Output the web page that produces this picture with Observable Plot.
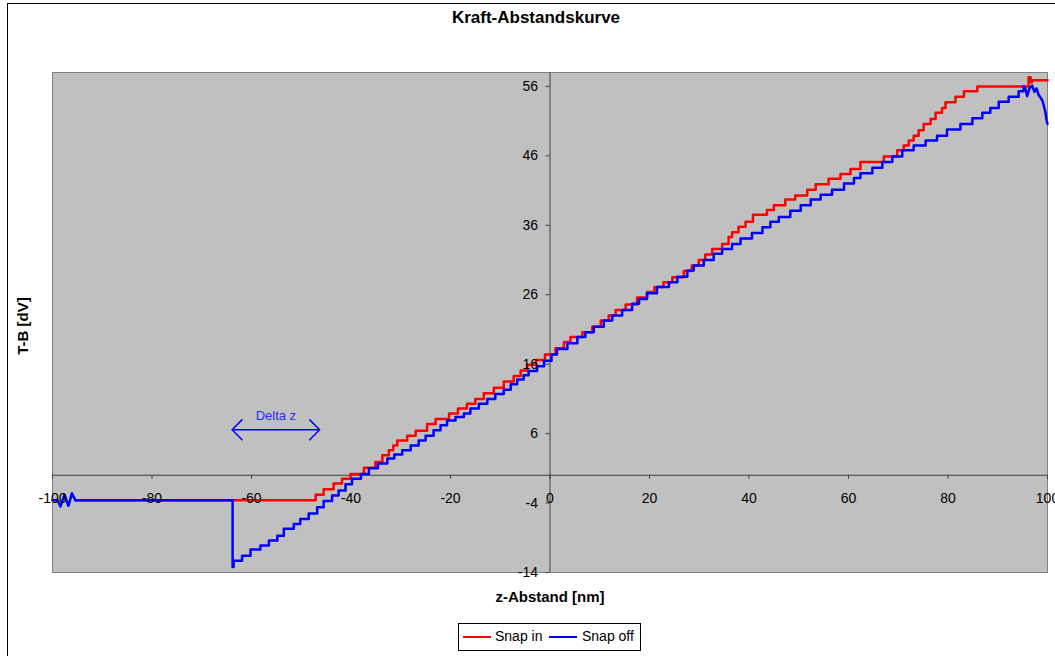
<!DOCTYPE html>
<html>
<head>
<meta charset="utf-8">
<script src="https://cdn.jsdelivr.net/npm/d3@7"></script>
<script src="https://cdn.jsdelivr.net/npm/@observablehq/plot@0.6"></script>
<style>
  html, body { margin: 0; padding: 0; background: #fff; }
  #chart { position: relative; width: 1055px; height: 656px; overflow: hidden;
           font-family: "Liberation Sans", Arial, sans-serif; color: #000; }
  #chart svg { position: absolute; left: 0; top: 0; }
  #border { position: absolute; left: 7px; top: 3px; width: 1060px; height: 660px;
            border-left: 1px solid #000; border-top: 1px solid #000; pointer-events: none; }
  .title { position: absolute; left: 336px; width: 400px; top: 8px; text-align: center;
           font-weight: bold; font-size: 17px; }
  .xlabel { position: absolute; left: 400px; width: 300px; top: 588px; text-align: center;
            font-weight: bold; font-size: 15px; }
  .ylabel { position: absolute; left: 22px; top: 326px; font-weight: bold; font-size: 15px;
            transform: translate(-50%, -50%) rotate(-90deg); white-space: nowrap; }
  .legend { position: absolute; left: 458px; top: 623px; width: 181px; height: 26px;
            border: 1px solid #000; background: #fff; font-size: 14px; }
  .legend .sw { position: absolute; top: 12px; width: 28px; height: 0; border-top: 2.5px solid; }
  .legend .lb { position: absolute; top: 4px; line-height: 16px; }
</style>
</head>
<body>
<div id="chart">
  <div class="title">Kraft-Abstandskurve</div>
  <div class="xlabel">z-Abstand [nm]</div>
  <div class="ylabel">T-B [dV]</div>
  <div class="legend">
    <div class="sw" style="left:4px;border-color:#ff0000"></div><div class="lb" style="left:36px">Snap in</div>
    <div class="sw" style="left:90px;border-color:#0000ff"></div><div class="lb" style="left:123px">Snap off</div>
  </div>
  <div id="border"></div>
</div>
<script>
// Axis ticks
const xTicks = [-100, -80, -60, -40, -20, 0, 20, 40, 60, 80, 100];
const yTicks = [-14, -4, 6, 16, 26, 36, 46, 56];

// "Snap in" curve: z position [nm] where each step starts, and its level [dV]
const snapInZ = [-95, -47.1, -45.5, -43.5, -41.8, -40.1, -37.4, -35.1, -33.7, -32.4, -31.5, -30.7,
  -28.7, -27.0, -24.7, -23.0, -20.3, -18.5, -16.7, -15.0, -13.3, -11.3, -9.3, -7.3, -5.9, -4.6,
  -2.8, -1.0, 1.1, 2.8, 4.1, 6.5, 8.5, 10.2, 11.8, 13.2, 15.2, 17.5, 19.5, 21.0, 22.8, 24.6,
  26.9, 28.5, 29.9, 31.2, 32.6, 34.6, 35.9, 36.6, 37.9, 39.3, 40.8, 43.6, 45.0, 47.3, 49.3,
  51.7, 53.4, 56.0, 58.4, 60.4, 62.4, 67.1, 69.8, 71.1, 72.1, 73.1, 74.1, 75.1, 76.5, 77.5,
  78.8, 79.5, 81.5, 83.2, 85.9, 96.2, 96.6, 96.9, 100];
const snapInF = [-3.6, -2.8, -2.0, -1.2, -0.5, 0.2, 1.1, 1.9, 2.9, 3.6, 4.3, 5.0,
  5.7, 6.4, 7.4, 8.1, 8.9, 9.6, 10.3, 11.0, 11.8, 12.6, 13.5, 14.3, 15.1, 15.9,
  16.6, 17.4, 18.3, 19.2, 19.9, 20.6, 21.4, 22.3, 23.0, 23.8, 24.6, 25.6, 26.4, 27.1, 27.8, 28.5,
  29.4, 30.2, 31.0, 31.8, 32.6, 33.3, 34.3, 35.0, 35.8, 36.5, 37.5, 38.2, 38.9, 39.7, 40.3,
  41.1, 41.9, 42.7, 43.4, 44.1, 45.1, 45.9, 46.8, 47.5, 48.2, 48.9, 49.7, 50.6, 51.3, 52.2,
  52.9, 53.7, 54.5, 55.3, 56.0, 57.3, 56.6, 56.9, 56.9];

// "Snap off" curve, start: noise while the tip is far from the surface
const snapOffStartZ = [-100, -99.0, -98.4, -97.6, -96.8, -96.1, -95.4];
const snapOffStartF = [-3.6, -3.6, -4.5, -2.8, -4.4, -2.6, -3.6];

// "Snap off" curve, stepped part
const snapOffZ = [-95.4, -63.8, -63.6, -61.9, -60.2, -58.2,
  -56.5, -54.8, -53.5, -51.5, -50.2, -48.5, -46.8, -45.5, -43.8, -42.5, -41.1, -39.8, -38.0,
  -36.4, -34.6, -32.7, -31.3, -29.7, -28.0, -26.4, -25.0, -23.4, -22.0, -20.7, -19.0, -17.3,
  -16.0, -14.3, -12.6, -11.0, -9.3, -7.9, -6.6, -5.3, -4.3, -2.6, -1.2, 0.3, 1.4, 3.5, 5.5,
  7.1, 8.8, 10.8, 12.5, 14.5, 16.5, 17.9, 19.5, 21.5, 23.9, 25.6, 27.6, 28.9, 30.9, 32.9,
  34.6, 36.6, 38.3, 40.6, 42.7, 44.3, 46.0, 48.3, 50.4, 52.4, 54.4, 56.7, 59.1, 61.1, 62.4,
  64.8, 66.8, 68.8, 70.8, 73.1, 75.5, 77.8, 79.8, 82.5, 84.9, 86.9, 88.5, 90.2, 92.2, 94.2,
  95.2];
const snapOffF = [-3.6, -13.2, -12.3, -11.6, -10.7, -10.1,
  -9.4, -8.7, -7.7, -7.0, -6.3, -5.5, -4.6, -3.7, -2.9, -2.2, -1.3, -0.5, 0.2,
  1.0, 1.7, 2.4, 3.0, 3.6, 4.3, 5.0, 5.7, 6.5, 7.2, 7.9, 8.4, 8.9,
  9.6, 10.3, 11.0, 11.7, 12.3, 13.1, 13.8, 14.4, 15.0, 15.7, 16.5, 17.4, 18.2, 19.0, 19.9,
  20.6, 21.4, 22.3, 23.0, 23.8, 24.7, 25.4, 26.2, 27.1, 27.8, 28.6, 29.5, 30.2, 31.0, 31.9,
  32.6, 33.3, 34.1, 34.9, 35.7, 36.5, 37.2, 38.1, 38.9, 39.7, 40.4, 41.1, 42.0, 42.8, 43.5,
  44.3, 45.1, 45.9, 46.8, 47.5, 48.2, 48.9, 49.8, 50.6, 51.4, 52.2, 52.9, 53.8, 54.5, 55.3,
  56.0];

// "Snap off" curve, end: tip pressed hardest, signal rolls off
const snapOffEndZ = [95.2, 95.6, 95.9, 96.4, 96.9, 97.4, 97.8, 98.2, 98.6, 99.0, 99.3, 99.6, 99.8, 100];
const snapOffEndF = [56.0, 55.6, 54.6, 55.8, 56.1, 55.2, 55.7, 54.8, 54.4, 53.9, 53.1, 52.2, 51.2, 50.6];

// "Delta z" annotation: span between snap-off jump and snap-in jump
const deltaFrom = [-63.9];
const deltaTo = [-46.3];
const deltaLevel = [6.55];

const rows = (zs, fs) => zs.map((z, i) => ({z, f: fs[i]}));
const snapIn = rows(snapInZ, snapInF);
const snapOffStart = rows(snapOffStartZ, snapOffStartF);
const snapOff = rows(snapOffZ, snapOffF);
const snapOffEnd = rows(snapOffEndZ, snapOffEndF);
const delta = deltaFrom.map((a, i) => ({a, b: deltaTo[i], f: deltaLevel[i], m: (a + deltaTo[i]) / 2}));

const axisColor = "#404040";
const blue = "#0000ff";

const chart = Plot.plot({
  width: 1055,
  height: 656,
  marginLeft: 52,
  marginRight: 8,
  marginTop: 72,
  marginBottom: 84,
  style: {background: "transparent", fontFamily: "'Liberation Sans', Arial, sans-serif", color: "#000"},
  x: {domain: [-100, 100], axis: null},
  y: {domain: [-14, 58], axis: null},
  marks: [
    Plot.frame({fill: "#c0c0c0", stroke: "#808080"}),
    // axes crossing at the origin
    Plot.ruleY([0], {stroke: axisColor}),
    Plot.ruleX([0], {stroke: axisColor}),
    Plot.ruleX(xTicks, {x: d => d, y1: 0, y2: 0, insetBottom: -4, stroke: axisColor}),
    Plot.ruleY(yTicks, {y: d => d, x1: 0, x2: 0, insetLeft: -4, stroke: axisColor}),
    // force-distance curves
    Plot.line(snapIn, {x: "z", y: "f", curve: "step-after", stroke: "#ff0000", strokeWidth: 2.5}),
    Plot.line(snapOffStart, {x: "z", y: "f", stroke: blue, strokeWidth: 2.5}),
    Plot.line(snapOff, {x: "z", y: "f", curve: "step-after", stroke: blue, strokeWidth: 2.5}),
    Plot.line(snapOffEnd, {x: "z", y: "f", stroke: blue, strokeWidth: 2.5}),
    // double-headed Delta z arrow
    Plot.arrow(delta, {x1: "m", x2: "a", y1: "f", y2: "f", stroke: blue, strokeWidth: 1.5, headLength: 14, headAngle: 90}),
    Plot.arrow(delta, {x1: "m", x2: "b", y1: "f", y2: "f", stroke: blue, strokeWidth: 1.5, headLength: 14, headAngle: 90}),
    Plot.text(delta, {x: "m", y: "f", dy: -14, text: () => "Delta z", fill: "#2a2aff", fontSize: 13}),
    // tick labels
    Plot.text(xTicks, {x: d => d, y: 0, dy: 23, text: d => String(d), fontSize: 14, fill: "#000"}),
    Plot.text(yTicks, {x: 0, y: d => d, dx: -12, textAnchor: "end", text: d => String(d), fontSize: 14, fill: "#000"})
  ]
});
document.getElementById("chart").insertBefore(chart, document.getElementById("chart").firstChild);
</script>
</body>
</html>
